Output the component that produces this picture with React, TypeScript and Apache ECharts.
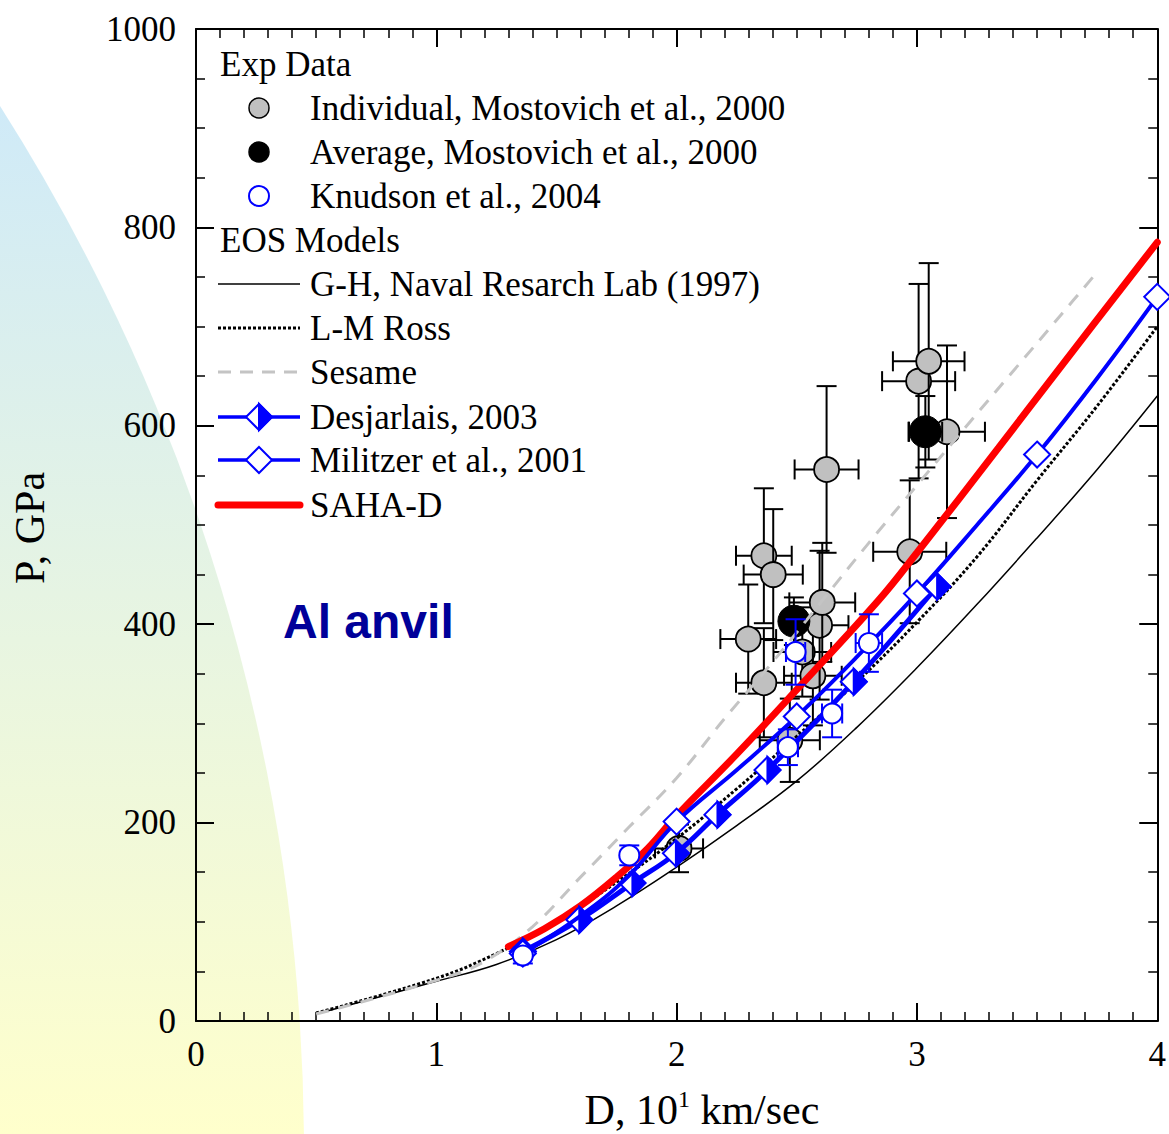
import React, { useEffect, useRef } from 'react';
import * as echarts from 'echarts';

// ---------- data ----------
// Axis ticks
const xMin = 0, xMax = 4, xInterval = 1;
const yMin = 0, yMax = 1000, yInterval = 200;

// Individual, Mostovich et al., 2000  (D, P, ±D, ±P)
const indivD = [2.298, 2.363, 2.363, 2.402, 2.471, 2.523, 2.567, 2.595, 2.606, 2.624, 2.01, 2.97, 3.007, 3.049, 3.125];
const indivP = [385, 341, 469, 450, 283, 372, 348, 399, 422, 556, 174, 473, 645, 665, 594];
const indivDErr = [0.116, 0.116, 0.116, 0.123, 0.125, 0.12, 0.12, 0.12, 0.137, 0.133, 0.1, 0.152, 0.152, 0.149, 0.158];
const indivPErr = [55, 55, 68, 66, 42, 45, 50, 75, 60, 84, 24, 72, 98, 99, 87];

// Average, Mostovich et al., 2000
const avgD = [2.488, 3.035];
const avgP = [403, 594];
const avgDErr = [0.05, 0.07];
const avgPErr = [24, 36];

// Knudson et al., 2004
const knudD = [1.36, 1.803, 2.463, 2.495, 2.647, 2.8];
const knudP = [66, 167, 276, 372, 310, 381];
const knudDErr = [0.02, 0, 0.042, 0.04, 0.042, 0.055];
const knudPErr = [8, 10, 18, 33, 24, 29];

// G-H, Naval Research Lab (1997)
const ghD = [0.5, 1.0, 1.25, 1.5, 1.75, 2.0, 2.25, 2.5, 2.75, 3.0, 3.25, 3.5, 3.75, 4.0];
const ghP = [7, 40, 57, 82, 116, 155, 197, 242, 296, 356, 420, 487, 556, 630];

// L-M Ross
const lmD = [0.5, 1.0, 1.25, 1.5, 1.75, 2.0, 2.25, 2.5, 2.75, 3.0, 3.25, 3.5, 3.75, 4.0];
const lmP = [8, 43, 68, 100, 140, 184, 234, 287, 342, 402, 468, 545, 620, 700];

// Sesame
const sesD = [0.5, 1.0, 1.2, 1.4, 1.6, 1.8, 2.0, 2.2, 2.4, 2.6, 2.8, 3.0, 3.2, 3.4, 3.6, 3.75];
const sesP = [7, 41, 60, 95, 145, 195, 245, 305, 362, 422, 482, 540, 598, 655, 712, 755];

// Desjarlais, 2003 (markers and curve)
const desD = [1.36, 1.595, 1.816, 1.997, 2.17, 2.378, 2.737, 3.084];
const desP = [70, 102, 139, 169, 208, 253, 342, 438];

// Militzer et al., 2001 — markers
const milD = [1.36, 2.0, 2.5, 3.0, 3.5, 4.0];
const milP = [68, 201, 307, 431, 571, 730];
// Militzer et al., 2001 — curve
const milCurveD = [1.36, 1.6, 1.8, 2.0, 2.25, 2.5, 2.75, 3.0, 3.25, 3.5, 3.75, 4.0];
const milCurveP = [68, 106, 146, 201, 253, 307, 367, 431, 500, 571, 648, 730];

// SAHA-D
const sahaD = [1.3, 1.45, 1.6, 1.75, 1.88, 2.0, 2.25, 2.5, 2.84, 3.0, 3.34, 3.6, 4.0];
const sahaP = [75, 93, 116, 145, 174, 207, 269, 334, 424, 472, 578, 660, 785];

// ---------- styling ----------
const SERIF = '"Liberation Serif", "Times New Roman", Times, serif';
const SANS = '"Liberation Sans", Arial, Helvetica, sans-serif';
const BLUE = '#0000ff';
const RED = '#ff0000';
const GRAY = '#c0c0c0';
const SES_GRAY = '#c4c4c4';

const zip = (a: number[], b: number[]) => a.map((v, i) => [v, b[i]]);
const zip4 = (a: number[], b: number[], c: number[], d: number[]) => a.map((v, i) => [v, b[i], c[i], d[i]]);

function errorRenderer(r: number, fill: string, stroke: string, circleWidth: number, barColor: string) {
  return (params: any, api: any) => {
    const d = api.value(0), p = api.value(1), dd = api.value(2), dp = api.value(3);
    const c = api.coord([d, p]);
    const cap = 10;
    const ls = { stroke: barColor, lineWidth: 2 };
    const children: any[] = [];
    if (dd > 0) {
      const l = api.coord([d - dd, p]);
      const rr = api.coord([d + dd, p]);
      children.push({ type: 'line', shape: { x1: l[0], y1: c[1], x2: rr[0], y2: c[1] }, style: ls });
      children.push({ type: 'line', shape: { x1: l[0], y1: c[1] - cap, x2: l[0], y2: c[1] + cap }, style: ls });
      children.push({ type: 'line', shape: { x1: rr[0], y1: c[1] - cap, x2: rr[0], y2: c[1] + cap }, style: ls });
    }
    if (dp > 0) {
      const t = api.coord([d, p + dp]);
      const b = api.coord([d, p - dp]);
      children.push({ type: 'line', shape: { x1: c[0], y1: t[1], x2: c[0], y2: b[1] }, style: ls });
      children.push({ type: 'line', shape: { x1: c[0] - cap, y1: t[1], x2: c[0] + cap, y2: t[1] }, style: ls });
      children.push({ type: 'line', shape: { x1: c[0] - cap, y1: b[1], x2: c[0] + cap, y2: b[1] }, style: ls });
    }
    children.push({ type: 'circle', shape: { cx: c[0], cy: c[1], r }, style: { fill, stroke, lineWidth: circleWidth } });
    return { type: 'group', children };
  };
}

function diamondRenderer(half: boolean) {
  return (params: any, api: any) => {
    const c = api.coord([api.value(0), api.value(1)]);
    const h = 13;
    const children: any[] = [
      { type: 'polygon', shape: { points: [[c[0], c[1] - h], [c[0] + h, c[1]], [c[0], c[1] + h], [c[0] - h, c[1]]] }, style: { fill: '#fff', stroke: BLUE, lineWidth: 2 } },
    ];
    if (half) {
      children.push({ type: 'polygon', shape: { points: [[c[0], c[1] - h], [c[0] + h, c[1]], [c[0], c[1] + h]] }, style: { fill: BLUE, stroke: BLUE, lineWidth: 2 } });
    }
    return { type: 'group', children };
  };
}

function legendGraphics(): any[] {
  const els: any[] = [];
  const textX = 310, headX = 220, symX = 259, x1 = 218, x2 = 300;
  const txt = (x: number, y: number, s: string) => ({
    type: 'text', x, y, z: 100, silent: true,
    style: { text: s, fill: '#000', font: `35px ${SERIF}`, textAlign: 'left', textVerticalAlign: 'middle' },
  });
  const ln = (y: number, stroke: string, lineWidth: number, lineDash?: number[], cap?: string) => ({
    type: 'line', z: 100, silent: true,
    shape: { x1, y1: y, x2, y2: y },
    style: { stroke, lineWidth, lineDash, lineCap: cap || 'butt' },
  });
  els.push(txt(headX, 64, 'Exp Data'));
  els.push({ type: 'circle', z: 100, shape: { cx: symX, cy: 108, r: 10 }, style: { fill: GRAY, stroke: '#000', lineWidth: 1.5 } });
  els.push(txt(textX, 108, 'Individual, Mostovich et al., 2000'));
  els.push({ type: 'circle', z: 100, shape: { cx: symX, cy: 152, r: 10 }, style: { fill: '#000', stroke: '#000', lineWidth: 1.5 } });
  els.push(txt(textX, 152, 'Average, Mostovich et al., 2000'));
  els.push({ type: 'circle', z: 100, shape: { cx: symX, cy: 196, r: 10 }, style: { fill: '#fff', stroke: BLUE, lineWidth: 2 } });
  els.push(txt(textX, 196, 'Knudson et al., 2004'));
  els.push(txt(headX, 240, 'EOS Models'));
  els.push(ln(284, '#000', 1.5));
  els.push(txt(textX, 284, 'G-H, Naval Resarch Lab (1997)'));
  els.push(ln(328, '#000', 3, [3, 2]));
  els.push(txt(textX, 328, 'L-M Ross'));
  els.push(ln(372, SES_GRAY, 3, [13, 9]));
  els.push(txt(textX, 372, 'Sesame'));
  els.push(ln(417, BLUE, 3.5));
  const h = 13, cy = 417;
  els.push({ type: 'polygon', z: 101, shape: { points: [[symX, cy - h], [symX + h, cy], [symX, cy + h], [symX - h, cy]] }, style: { fill: '#fff', stroke: BLUE, lineWidth: 2 } });
  els.push({ type: 'polygon', z: 102, shape: { points: [[symX, cy - h], [symX + h, cy], [symX, cy + h]] }, style: { fill: BLUE, stroke: BLUE, lineWidth: 2 } });
  els.push(txt(textX, 417, 'Desjarlais, 2003'));
  els.push(ln(460, BLUE, 3.5));
  const cy2 = 460;
  els.push({ type: 'polygon', z: 101, shape: { points: [[symX, cy2 - h], [symX + h, cy2], [symX, cy2 + h], [symX - h, cy2]] }, style: { fill: '#fff', stroke: BLUE, lineWidth: 2 } });
  els.push(txt(textX, 460, 'Militzer et al., 2001'));
  els.push(ln(505, RED, 7, undefined, 'round'));
  els.push(txt(textX, 505, 'SAHA-D'));
  return els;
}

export default function App() {
  const ref = useRef<HTMLDivElement>(null);

  useEffect(() => {
    if (!ref.current) return;
    const chart = echarts.init(ref.current, null, { renderer: 'svg' });

    const axisCommon = {
      type: 'value',
      axisLine: { show: true, onZero: false, lineStyle: { color: '#000', width: 2 } },
      axisTick: { show: true, inside: true, length: 18, lineStyle: { color: '#000', width: 2 } },
      splitLine: { show: false },
      minorSplitLine: { show: false },
    };
    const plain = (v: number) => String(v);

    const option: any = {
      animation: false,
      backgroundColor: 'transparent',
      grid: { left: 196, top: 29, width: 963, height: 992, containLabel: false },
      xAxis: [
        {
          ...axisCommon, position: 'bottom', min: xMin, max: xMax, interval: xInterval,
          minorTick: { show: true, splitNumber: 10, length: 9, lineStyle: { color: '#000', width: 1.5 } },
          axisLabel: { show: true, color: '#000', fontFamily: SERIF, fontSize: 35, margin: 16, formatter: plain },
        },
        {
          ...axisCommon, position: 'top', min: xMin, max: xMax, interval: xInterval,
          minorTick: { show: true, splitNumber: 10, length: 9, lineStyle: { color: '#000', width: 1.5 } },
          axisLabel: { show: false },
        },
      ],
      yAxis: [
        {
          ...axisCommon, position: 'left', min: yMin, max: yMax, interval: yInterval,
          minorTick: { show: true, splitNumber: 4, length: 9, lineStyle: { color: '#000', width: 1.5 } },
          axisLabel: { show: true, color: '#000', fontFamily: SERIF, fontSize: 35, margin: 20, formatter: plain },
        },
        {
          ...axisCommon, position: 'right', min: yMin, max: yMax, interval: yInterval,
          minorTick: { show: true, splitNumber: 4, length: 9, lineStyle: { color: '#000', width: 1.5 } },
          axisLabel: { show: false },
        },
      ],
      graphic: [
        {
          type: 'circle', z: -100, silent: true,
          shape: { cx: -1640, cy: 1150, r: 1944 },
          style: {
            fill: new echarts.graphic.LinearGradient(0, 100, 0, 1134, [
              { offset: 0, color: '#cfeaf8' },
              { offset: 1, color: '#ffffcc' },
            ], true),
          },
        },
        {
          type: 'text', x: 283, y: 621, z: 100, silent: true,
          style: { text: 'Al anvil', fill: '#000099', font: `bold 48px ${SANS}`, textAlign: 'left', textVerticalAlign: 'middle' },
        },
        {
          type: 'text', x: 30, y: 528, rotation: Math.PI / 2, z: 100, silent: true,
          style: { text: 'P, GPa', fill: '#000', font: `42px ${SERIF}`, textAlign: 'center', textVerticalAlign: 'middle' },
        },
        {
          type: 'text', x: 702, y: 1110, z: 100, silent: true,
          style: {
            text: '{a|D, 10}{s|1}{a| km/sec}',
            textAlign: 'center', textVerticalAlign: 'middle',
            rich: {
              a: { fontSize: 42, fontFamily: SERIF, fill: '#000', lineHeight: 46 },
              s: { fontSize: 24, fontFamily: SERIF, fill: '#000', lineHeight: 24, verticalAlign: 'top' },
            },
          },
        },
        ...legendGraphics(),
      ],
      series: [
        {
          name: 'Individual, Mostovich et al., 2000', type: 'custom', z: 2,
          renderItem: errorRenderer(12.5, GRAY, '#000', 1.8, '#000'),
          data: zip4(indivD, indivP, indivDErr, indivPErr), encode: { x: 0, y: 1 },
        },
        {
          name: 'Average, Mostovich et al., 2000', type: 'custom', z: 3,
          renderItem: errorRenderer(16, '#000', '#000', 1, '#000'),
          data: zip4(avgD, avgP, avgDErr, avgPErr), encode: { x: 0, y: 1 },
        },
        {
          name: 'G-H, Naval Resarch Lab (1997)', type: 'line', z: 4, smooth: 0.4, symbol: 'none',
          lineStyle: { color: '#000', width: 1.5 }, data: zip(ghD, ghP),
        },
        {
          name: 'L-M Ross', type: 'line', z: 4, smooth: 0.4, symbol: 'none',
          lineStyle: { color: '#000', width: 3, type: [3, 2] }, data: zip(lmD, lmP),
        },
        {
          name: 'Sesame', type: 'line', z: 4, smooth: 0.4, symbol: 'none',
          lineStyle: { color: SES_GRAY, width: 3, type: [13, 10] }, data: zip(sesD, sesP),
        },
        {
          name: 'SAHA-D', type: 'line', z: 5, smooth: 0.4, symbol: 'none',
          lineStyle: { color: RED, width: 7, cap: 'round' }, data: zip(sahaD, sahaP),
        },
        {
          name: 'Desjarlais, 2003', type: 'line', z: 6, smooth: 0.4, symbol: 'none',
          lineStyle: { color: BLUE, width: 5 }, data: zip(desD, desP),
        },
        {
          name: 'Desjarlais markers', type: 'custom', z: 7,
          renderItem: diamondRenderer(true), data: zip(desD, desP), encode: { x: 0, y: 1 },
        },
        {
          name: 'Militzer et al., 2001', type: 'line', z: 8, smooth: 0.4, symbol: 'none',
          lineStyle: { color: BLUE, width: 4 }, data: zip(milCurveD, milCurveP),
        },
        {
          name: 'Militzer markers', type: 'custom', z: 9,
          renderItem: diamondRenderer(false), data: zip(milD, milP), encode: { x: 0, y: 1 },
        },
        {
          name: 'Knudson et al., 2004', type: 'custom', z: 10,
          renderItem: errorRenderer(10, '#fff', BLUE, 2, BLUE),
          data: zip4(knudD, knudP, knudDErr, knudPErr), encode: { x: 0, y: 1 },
        },
      ],
    };

    chart.setOption(option);
    return () => chart.dispose();
  }, []);

  return <div ref={ref} style={{ position: 'absolute', left: 0, top: 0, width: 1169, height: 1134 }} />;
}
